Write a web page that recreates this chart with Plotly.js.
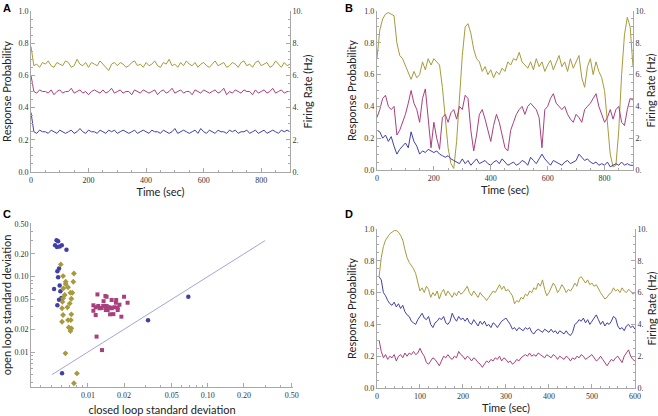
<!DOCTYPE html>
<html>
<head>
<meta charset="utf-8">
<script src="https://cdn.plot.ly/plotly-3.0.1.min.js"></script>
<style>body{margin:0;background:#fff}#chart{width:658px;height:416px}</style>
</head>
<body>
<div id="chart"></div>
<script>
// panel A and B time grid (sec)
var tAB = [0,10,20,30,40,50,60,70,80,90,
  100,110,120,130,140,150,160,170,180,190,
  200,210,220,230,240,250,260,270,280,290,
  300,310,320,330,340,350,360,370,380,390,
  400,410,420,430,440,450,460,470,480,490,
  500,510,520,530,540,550,560,570,580,590,
  600,610,620,630,640,650,660,670,680,690,
  700,710,720,730,740,750,760,770,780,790,
  800,810,820,830,840,850,860,870,880,890,900];

var goldA = [0.78,0.66,0.67,0.65,0.68,0.67,0.69,0.66,0.65,0.68,
  0.67,0.66,0.69,0.68,0.65,0.66,0.70,0.67,0.66,0.68,
  0.65,0.68,0.67,0.66,0.69,0.67,0.65,0.63,0.67,0.68,
  0.66,0.68,0.67,0.65,0.66,0.68,0.69,0.66,0.67,0.65,
  0.68,0.66,0.67,0.69,0.66,0.65,0.68,0.67,0.70,0.66,
  0.67,0.65,0.68,0.66,0.69,0.67,0.66,0.68,0.65,0.67,
  0.68,0.66,0.65,0.67,0.69,0.66,0.67,0.68,0.65,0.66,
  0.68,0.67,0.65,0.68,0.69,0.66,0.67,0.65,0.68,0.69,
  0.66,0.67,0.68,0.65,0.66,0.69,0.67,0.65,0.68,0.66,0.67];
var magA = [0.60,0.50,0.49,0.51,0.50,0.50,0.49,0.51,0.48,0.50,
  0.51,0.49,0.50,0.50,0.52,0.49,0.50,0.51,0.49,0.50,
  0.48,0.50,0.51,0.50,0.49,0.51,0.49,0.50,0.52,0.49,
  0.50,0.51,0.49,0.50,0.50,0.48,0.51,0.50,0.49,0.51,
  0.50,0.49,0.50,0.51,0.48,0.50,0.51,0.49,0.50,0.52,
  0.49,0.50,0.51,0.49,0.50,0.50,0.48,0.51,0.50,0.49,
  0.51,0.50,0.49,0.50,0.51,0.49,0.50,0.52,0.48,0.50,
  0.49,0.51,0.50,0.49,0.51,0.50,0.50,0.48,0.51,0.49,
  0.50,0.51,0.49,0.50,0.52,0.49,0.50,0.51,0.49,0.50,0.50];
var blueA = [0.37,0.25,0.24,0.26,0.25,0.25,0.24,0.26,0.25,0.24,
  0.26,0.25,0.24,0.25,0.26,0.24,0.25,0.27,0.25,0.24,
  0.26,0.25,0.25,0.24,0.26,0.25,0.24,0.26,0.25,0.26,
  0.24,0.25,0.26,0.25,0.24,0.25,0.26,0.24,0.25,0.26,
  0.25,0.24,0.26,0.25,0.25,0.24,0.26,0.25,0.24,0.25,
  0.27,0.24,0.25,0.26,0.25,0.24,0.25,0.26,0.24,0.27,
  0.25,0.24,0.26,0.25,0.24,0.26,0.25,0.25,0.24,0.26,
  0.25,0.26,0.24,0.25,0.25,0.26,0.24,0.25,0.26,0.24,
  0.25,0.26,0.24,0.25,0.26,0.25,0.24,0.26,0.25,0.26,0.25];

var goldB = [0.70,0.88,0.95,0.98,0.99,0.98,0.97,0.80,0.72,0.70,
  0.66,0.62,0.57,0.62,0.58,0.60,0.68,0.63,0.70,0.66,
  0.70,0.68,0.66,0.52,0.32,0.14,0.04,0.01,0.18,0.46,
  0.72,0.90,0.92,0.86,0.76,0.70,0.68,0.62,0.65,0.60,
  0.63,0.58,0.62,0.60,0.64,0.62,0.68,0.66,0.70,0.69,
  0.74,0.68,0.66,0.64,0.68,0.63,0.70,0.65,0.68,0.62,
  0.66,0.69,0.63,0.67,0.72,0.65,0.68,0.62,0.70,0.64,
  0.68,0.72,0.58,0.52,0.65,0.70,0.60,0.68,0.62,0.58,
  0.50,0.30,0.10,0.02,0.03,0.25,0.60,0.85,0.96,0.90,0.65];
var magB = [0.33,0.38,0.45,0.47,0.40,0.38,0.40,0.22,0.25,0.30,
  0.35,0.42,0.50,0.42,0.38,0.30,0.45,0.51,0.30,0.14,
  0.30,0.20,0.13,0.33,0.35,0.30,0.36,0.38,0.32,0.40,
  0.38,0.47,0.45,0.25,0.12,0.22,0.35,0.38,0.32,0.25,
  0.18,0.28,0.35,0.30,0.22,0.14,0.12,0.25,0.30,0.35,
  0.38,0.40,0.35,0.40,0.42,0.40,0.38,0.33,0.14,0.38,
  0.40,0.45,0.48,0.42,0.40,0.38,0.40,0.35,0.32,0.30,
  0.35,0.33,0.30,0.38,0.40,0.42,0.45,0.48,0.40,0.35,
  0.30,0.33,0.38,0.32,0.38,0.40,0.30,0.28,0.38,0.45,0.44];
var blueB = [0.25,0.24,0.20,0.22,0.18,0.21,0.15,0.10,0.13,0.15,
  0.17,0.14,0.24,0.18,0.15,0.10,0.12,0.11,0.13,0.12,
  0.11,0.12,0.10,0.09,0.08,0.09,0.07,0.06,0.05,0.04,
  0.07,0.04,0.06,0.03,0.05,0.07,0.04,0.05,0.06,0.04,
  0.03,0.05,0.06,0.04,0.07,0.05,0.03,0.04,0.05,0.03,
  0.04,0.06,0.05,0.03,0.08,0.06,0.04,0.07,0.10,0.07,
  0.05,0.03,0.06,0.05,0.04,0.03,0.05,0.06,0.04,0.05,
  0.06,0.10,0.08,0.06,0.07,0.05,0.04,0.05,0.03,0.04,
  0.03,0.05,0.02,0.03,0.04,0.03,0.05,0.03,0.04,0.03,0.03];

// panel C: closed loop sd (x) vs open loop sd (y)
var blueCx = [0.00547,0.00564,0.00532,0.00552,0.00581,0.00605,0.00662,0.00574,0.00556,0.00564,
  0.00581,0.00522,0.00589,0.00601,0.00574,0.00556,0.00608,0.0317,0.0687];
var blueCy = [0.304,0.295,0.261,0.246,0.25,0.26,0.226,0.128,0.118,0.098,
  0.0764,0.0683,0.0637,0.0519,0.0493,0.0416,0.00522,0.0263,0.054];
var goldCx = [0.00594,0.0062,0.00764,0.00652,0.00652,0.00755,0.00624,0.00682,0.00714,0.0064,
  0.00741,0.0062,0.00727,0.00613,0.00705,0.00608,0.00674,0.0062,0.00727,0.00682,
  0.00608,0.0072,0.00691,0.00727,0.00714,0.00649,0.00809,0.00764];
var goldCy = [0.145,0.1015,0.110,0.0853,0.0796,0.0853,0.0698,0.072,0.061,0.0569,
  0.061,0.0515,0.0508,0.0464,0.0441,0.038,0.0392,0.0309,0.0316,0.0265,
  0.0252,0.0265,0.0212,0.0206,0.019,0.0096,0.0052,0.00385];
var magCx = [0.012,0.01398,0.0143,0.01576,0.0172,0.020,0.0214,0.0111,0.0116,0.0122,
  0.0125,0.013,0.0134,0.0143,0.0149,0.0154,0.0158,0.0166,0.0177,0.0171,
  0.0111,0.0116,0.0146,0.0153,0.0163,0.0177,0.019,0.0118,0.0131,0.0135,0.0183,0.0141];
var magCy = [0.058,0.0552,0.054,0.0489,0.0489,0.054,0.045,0.0416,0.0392,0.0407,
  0.038,0.0383,0.0407,0.0407,0.0392,0.0387,0.038,0.0392,0.0387,0.045,
  0.0352,0.0309,0.036,0.0316,0.0318,0.036,0.0294,0.016,0.0106,0.0472,0.0424,0.036];
var unityC = [0.005,0.3];

// panel D
var tD = [5,10,15,20,25,30,35,40,45,50,
  55,60,65,70,75,80,85,90,95,100,
  105,110,115,120,125,130,135,140,145,150,
  155,160,165,170,175,180,185,190,195,200,
  205,210,215,220,225,230,235,240,245,250,
  255,260,265,270,275,280,285,290,295,300,
  305,310,315,320,325,330,335,340,345,350,
  355,360,365,370,375,380,385,390,395,400,
  405,410,415,420,425,430,435,440,445,450,
  455,460,465,470,475,480,485,490,495,500,
  505,510,515,520,525,530,535,540,545,550,
  555,560,565,570,575,580,585,590,595,600];
var goldD = [0.70,0.82,0.89,0.93,0.95,0.97,0.98,0.99,0.99,0.98,
  0.96,0.93,0.87,0.82,0.79,0.77,0.75,0.72,0.66,0.61,
  0.63,0.60,0.64,0.62,0.57,0.60,0.58,0.61,0.56,0.60,
  0.62,0.58,0.61,0.59,0.57,0.60,0.58,0.61,0.59,0.60,
  0.62,0.64,0.60,0.58,0.61,0.59,0.57,0.60,0.58,0.57,
  0.55,0.57,0.59,0.61,0.60,0.63,0.65,0.62,0.64,0.61,
  0.62,0.60,0.58,0.53,0.55,0.54,0.57,0.56,0.59,0.58,
  0.61,0.60,0.63,0.62,0.66,0.64,0.68,0.62,0.58,0.60,
  0.63,0.66,0.64,0.60,0.62,0.65,0.63,0.60,0.62,0.61,
  0.63,0.66,0.64,0.69,0.70,0.68,0.66,0.68,0.65,0.66,
  0.64,0.65,0.62,0.60,0.58,0.56,0.57,0.59,0.60,0.63,
  0.61,0.62,0.60,0.63,0.61,0.60,0.62,0.61,0.59,0.60];
var blueD = [0.70,0.68,0.60,0.58,0.55,0.53,0.52,0.54,0.51,0.53,
  0.50,0.52,0.48,0.46,0.45,0.42,0.41,0.40,0.43,0.45,
  0.47,0.44,0.43,0.45,0.40,0.38,0.41,0.42,0.44,0.43,
  0.45,0.41,0.40,0.42,0.47,0.44,0.42,0.45,0.43,0.44,
  0.42,0.44,0.41,0.40,0.43,0.41,0.39,0.42,0.40,0.42,
  0.39,0.40,0.38,0.41,0.40,0.38,0.40,0.42,0.43,0.44,
  0.42,0.40,0.37,0.38,0.36,0.38,0.37,0.36,0.38,0.37,
  0.38,0.35,0.34,0.36,0.37,0.36,0.35,0.37,0.36,0.35,
  0.37,0.35,0.36,0.34,0.36,0.35,0.34,0.36,0.34,0.33,
  0.35,0.40,0.41,0.43,0.42,0.44,0.41,0.43,0.40,0.42,
  0.44,0.46,0.43,0.40,0.42,0.39,0.41,0.40,0.42,0.45,
  0.44,0.39,0.37,0.38,0.36,0.39,0.40,0.38,0.39,0.37];
var magD = [0.30,0.23,0.19,0.21,0.18,0.20,0.19,0.21,0.17,0.20,
  0.21,0.19,0.22,0.20,0.22,0.21,0.23,0.21,0.22,0.25,
  0.22,0.20,0.16,0.15,0.17,0.19,0.18,0.16,0.14,0.17,
  0.20,0.19,0.21,0.19,0.18,0.20,0.19,0.23,0.21,0.20,
  0.18,0.20,0.19,0.17,0.19,0.18,0.16,0.15,0.13,0.15,
  0.17,0.16,0.18,0.17,0.19,0.18,0.20,0.17,0.19,0.18,
  0.16,0.17,0.15,0.16,0.18,0.17,0.19,0.20,0.21,0.20,
  0.22,0.20,0.21,0.20,0.22,0.21,0.20,0.19,0.21,0.20,
  0.19,0.21,0.20,0.18,0.20,0.19,0.18,0.20,0.19,0.17,
  0.19,0.18,0.20,0.19,0.21,0.20,0.18,0.19,0.20,0.21,
  0.19,0.17,0.18,0.20,0.18,0.16,0.14,0.16,0.18,0.17,
  0.19,0.20,0.18,0.16,0.20,0.22,0.24,0.20,0.18,0.17];

var probTicks = [0,0.2,0.4,0.6,0.8,1.0];
var rateTicks = [0,2,4,6,8,10];
var rateText = ['0.','2.','4.','6.','8.','10.'];
var logTicks = [0.01,0.02,0.05,0.1,0.2,0.5];
var logText = ['0.01','0.02','0.05','0.10','0.20','0.50'];

var GOLD = '#a89a3c', MAG = '#a8407e', BLUE = '#4040a8';
var AX = '#a8a8a8';
var tickFont = {family: 'Liberation Serif', size: 8, color: '#333'};
var titleFont = {family: 'Lato', size: 11, color: '#222'};

var line = function(x, y, color, xa, ya){
  return {x: x, y: y, xaxis: xa, yaxis: ya, type: 'scatter', mode: 'lines',
    line: {color: color, width: 1}, hoverinfo: 'skip'};
};
var pts = function(x, y, color, sym, size){
  return {x: x, y: y, xaxis: 'x3', yaxis: 'y5', type: 'scatter', mode: 'markers',
    marker: {color: color, symbol: sym, size: size, line: {width: 0}}};
};

var data = [
  line(tAB, goldA, GOLD, 'x', 'y'), line(tAB, magA, MAG, 'x', 'y'), line(tAB, blueA, BLUE, 'x', 'y'),
  line([], [], GOLD, 'x', 'y2'),
  line(tAB, goldB, GOLD, 'x2', 'y3'), line(tAB, magB, MAG, 'x2', 'y3'), line(tAB, blueB, BLUE, 'x2', 'y3'),
  line([], [], GOLD, 'x2', 'y4'),
  {x: unityC, y: unityC, xaxis: 'x3', yaxis: 'y5', type: 'scatter', mode: 'lines', line: {color: '#a4a4dc', width: 1}},
  pts(blueCx, blueCy, BLUE, 'circle', 4.5),
  pts(goldCx, goldCy, GOLD, 'diamond', 4.5),
  pts(magCx, magCy, MAG, 'square', 4),
  line(tD, goldD, GOLD, 'x4', 'y6'), line(tD, blueD, BLUE, 'x4', 'y6'), line(tD, magD, MAG, 'x4', 'y6'),
  line([], [], GOLD, 'x4', 'y7')
];

var timeAxis = function(dom, anchor, range, dt, mdt){
  return {domain: dom, anchor: anchor, range: range, dtick: dt, tick0: 0,
    showline: true, linecolor: AX, linewidth: 1, ticks: 'inside', ticklen: 4, tickcolor: AX,
    minor: {ticks: 'inside', ticklen: 2, dtick: mdt, tickcolor: AX},
    showgrid: false, zeroline: false, tickfont: tickFont,
    title: {text: 'Time (sec)', font: titleFont, standoff: 3}};
};
var probAxis = function(dom, anchor){
  return {domain: dom, anchor: anchor, range: [0, 1], tickvals: probTicks, tickformat: '.1f',
    showline: true, linecolor: AX, linewidth: 1, ticks: 'inside', ticklen: 4, tickcolor: AX,
    minor: {ticks: 'inside', ticklen: 2, dtick: 0.05, tickcolor: AX},
    showgrid: false, zeroline: false, tickfont: tickFont,
    title: {text: 'Response Probability', font: titleFont, standoff: 5}};
};
var rateAxis = function(over, anchor){
  return {overlaying: over, anchor: anchor, side: 'right', range: [0, 10],
    tickvals: rateTicks, ticktext: rateText,
    showline: true, linecolor: AX, linewidth: 1, ticks: 'inside', ticklen: 4, tickcolor: AX,
    minor: {ticks: 'inside', ticklen: 2, dtick: 0.5, tickcolor: AX},
    showgrid: false, zeroline: false, tickfont: tickFont,
    title: {text: 'Firing Rate (Hz)', font: titleFont, standoff: 2}};
};
var logAxis = function(dom, anchor, range, title, standoff){
  return {domain: dom, anchor: anchor, type: 'log', range: range,
    tickmode: 'array', tickvals: logTicks, ticktext: logText, tickangle: 0,
    showline: true, linecolor: AX, linewidth: 1, ticks: 'inside', ticklen: 4, tickcolor: AX,
    minor: {ticks: 'inside', ticklen: 2, tickcolor: AX, dtick: 'D1'},
    showgrid: false, zeroline: false, tickfont: tickFont,
    title: {text: title, font: titleFont, standoff: standoff}};
};

var panelLabel = function(t, x, y){
  return {text: '<b>' + t + '</b>', x: x, y: y, xref: 'paper', yref: 'paper',
    xanchor: 'left', yanchor: 'top', showarrow: false,
    font: {family: 'Liberation Sans', size: 11, color: '#000'}};
};

var layout = {
  width: 658, height: 416,
  margin: {l: 0, r: 0, t: 0, b: 0},
  paper_bgcolor: '#ffffff', plot_bgcolor: '#ffffff',
  showlegend: false,
  xaxis: timeAxis([0.0471, 0.4407], 'y', [0, 900], 200, 50),
  yaxis: probAxis([0.5865, 0.9736], 'x'),
  yaxis2: rateAxis('y', 'x'),
  xaxis2: timeAxis([0.5729, 0.962], 'y3', [0, 900], 200, 50),
  yaxis3: probAxis([0.5913, 0.9736], 'x2'),
  yaxis4: rateAxis('y3', 'x2'),
  xaxis3: logAxis([0.0471, 0.4453], 'y5', [-2.475, -0.29], 'closed loop standard deviation', 10),
  yaxis5: logAxis([0.0697, 0.4639], 'x3', [-2.464, -0.29], 'open loop standard deviation', 5),
  xaxis4: timeAxis([0.5729, 0.965], 'y6', [0, 600], 100, 20),
  yaxis6: probAxis([0.0673, 0.4495], 'x4'),
  yaxis7: rateAxis('y6', 'x4'),
  annotations: [
    panelLabel('A', 0.002, 1.0),
    panelLabel('B', 0.522, 1.0),
    panelLabel('C', 0.002, 0.505),
    panelLabel('D', 0.522, 0.505)
  ]
};

Plotly.newPlot('chart', data, layout, {staticPlot: true});
</script>
</body>
</html>
